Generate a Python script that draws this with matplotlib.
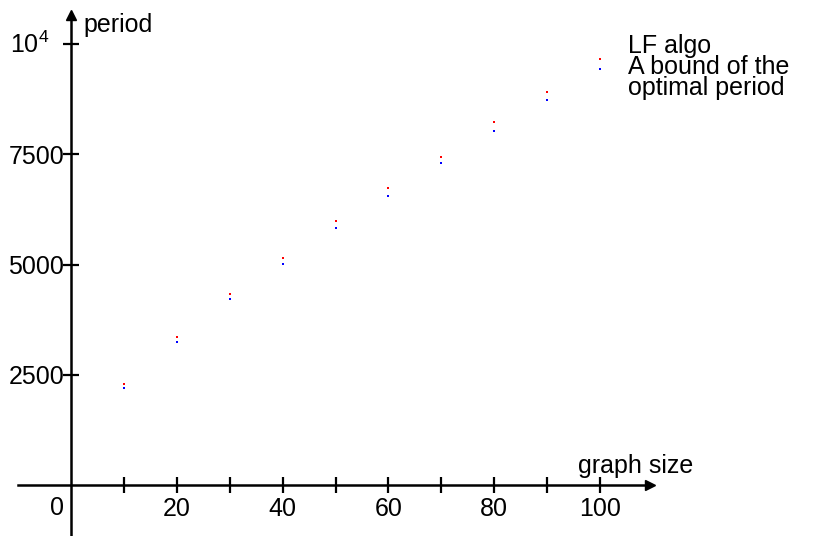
#!/usr/bin/env python3
"""Period of the LF algorithm vs. a bound of the optimal period."""

import matplotlib
matplotlib.use('Agg')
import matplotlib.pyplot as plt
import matplotlib.transforms as mtransforms

# Data
graph_size = [10, 20, 30, 40, 50, 60, 70, 80, 90, 100]
lf_algo = [2290, 3356, 4331, 5147, 5986, 6735, 7438, 8231, 8912, 9660]
opt_bound = [2200, 3243, 4218, 5011, 5828, 6553, 7302, 8027, 8730, 9430]

x_ticks = [10, 20, 30, 40, 50, 60, 70, 80, 90, 100]
x_tick_labels = ['', '20', '', '40', '', '60', '', '80', '', '100']
y_ticks = [2500, 5000, 7500, 10000]
y_tick_labels = ['2500', '5000', '7500', r'$10^4$']

plt.rcParams['font.family'] = ['Liberation Sans', 'DejaVu Sans']
plt.rcParams['mathtext.fontset'] = 'custom'
plt.rcParams['mathtext.rm'] = 'Liberation Sans'
FS = 18

fig = plt.figure(figsize=(8.16, 5.36), dpi=100)
ax = fig.add_axes([0, 0, 1, 1])

# pixel mapping: x=0 at px 71, 5.29 px/unit ; y=0 at px 485, 0.0441 px/unit
ax.set_xlim(-71 / 5.29, (816 - 71) / 5.29)
ax.set_ylim((485 - 536) / 0.0441, 485 / 0.0441)

ax.plot(graph_size, lf_algo, 's', color='red', ms=1.8, mew=0)
ax.plot(graph_size, opt_bound, 's', color='blue', ms=1.8, mew=0)

# axes through the origin
for s in ['top', 'right']:
    ax.spines[s].set_visible(False)
ax.spines['left'].set_position(('data', 0))
ax.spines['bottom'].set_position(('data', 0))
ax.spines['bottom'].set_bounds(-10, 109)
ax.spines['left'].set_bounds(-1150, 10600)
for s in ['left', 'bottom']:
    ax.spines[s].set_linewidth(1.8)
ax.plot(109.5, 0, '>', color='black', ms=7, clip_on=False)
ax.plot(0, 10657, '^', color='black', ms=7, clip_on=False)

ax.set_xticks(x_ticks)
ax.set_xticklabels(x_tick_labels, fontsize=FS)
ax.set_yticks(y_ticks)
ax.set_yticklabels(y_tick_labels, fontsize=FS)
ax.tick_params(axis='both', direction='inout', length=12, width=1.6)
ax.tick_params(axis='x', pad=3)
ax.tick_params(axis='y', pad=-1)

# the 10^4 label sits further left and a bit higher
lab = ax.get_yticklabels()[-1]
shift = mtransforms.ScaledTranslation(-15 / 100, 2 / 100, fig.dpi_scale_trans)
lab.set_transform(lab.get_transform() + shift)

ax.text(-2.6, -520, '0', ha='center', va='center', fontsize=FS)
ax.text(2.4, 10430, 'period', ha='left', va='center', fontsize=FS)
ax.text(106.8, 430, 'graph size', ha='center', va='center', fontsize=FS)

# legend text
ax.text(105.2, 9478, 'LF algo\nA bound of the\noptimal period',
        ha='left', va='center', fontsize=FS, linespacing=0.85)

fig.savefig('out.png', dpi=100, facecolor='white')
print("OK: out.png")
